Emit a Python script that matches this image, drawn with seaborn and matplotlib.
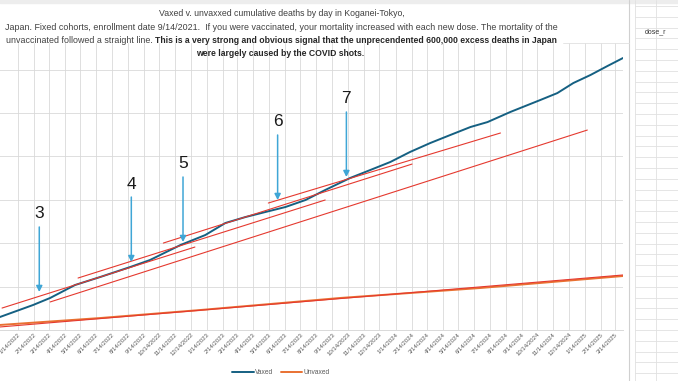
import matplotlib
matplotlib.use("Agg")
import matplotlib.pyplot as plt
from matplotlib.lines import Line2D
import pandas as pd
import seaborn as sns

# cumulative deaths (y axis labels are cut off, scale guessed)
vaxed_dates = ["2021-09-14", "2021-12-10", "2022-02-12", "2022-03-17", "2022-05-04",
               "2022-06-22", "2022-08-19", "2022-09-26", "2022-11-24", "2023-01-11",
               "2023-02-19", "2023-03-30", "2023-05-07", "2023-06-15", "2023-07-24",
               "2023-08-31", "2023-10-18", "2023-11-26", "2024-01-04", "2024-02-11",
               "2024-03-21", "2024-04-29", "2024-06-07", "2024-07-10", "2024-08-23",
               "2024-10-20", "2024-11-22", "2024-12-23", "2025-01-25", "2025-02-27",
               "2025-03-29"]
vaxed_deaths = [0, 150, 288, 369, 518, 611, 726, 806, 979, 1094,
                1233, 1302, 1359, 1417, 1498, 1613, 1751, 1843, 1936, 2051,
                2154, 2247, 2339, 2396, 2512, 2650, 2730, 2846, 2938, 3042,
                3134]

unvaxed_dates = ["2021-09-14", "2021-12-10", "2022-06-22", "2023-01-01",
                 "2023-09-29", "2024-06-26", "2025-03-29"]
unvaxed_deaths = [0, 58, 138, 230, 369, 484, 622]

# hand drawn red straight lines: start/end date and value
fit_start_dates = ["2021-12-14", "2022-05-10", "2022-10-22", "2023-05-13", "2022-03-17", "2021-12-10"]
fit_start_vals = [253, 599, 1002, 1463, 323, 35]
fit_end_dates = ["2022-12-22", "2023-08-31", "2024-02-15", "2024-08-04", "2025-01-19", "2025-03-29"]
fit_end_vals = [956, 1498, 1912, 2270, 2304, 634]

dose_labels = ["3", "4", "5", "6", "7"]
dose_dates = ["2022-02-24", "2022-08-21", "2022-11-29", "2023-05-31", "2023-10-11"]
dose_vals = [438, 783, 1014, 1498, 1763]

title_1 = "Vaxed v. unvaxxed cumulative deaths by day in Koganei-Tokyo,"
title_2 = ("Japan. Fixed cohorts, enrollment date 9/14/2021.  If you were vaccinated, "
           "your mortality increased with each new dose. The mortality of the")
title_3a = "unvaccinated followed a straight line. "
title_3b = "This is a very strong and obvious signal that the unprecendented 600,000 excess deaths in Japan"
title_4 = "were largely caused by the COVID shots."

W, H = 678, 381

sns.set_style("white")
plt.rcParams["font.family"] = ["Liberation Sans", "DejaVu Sans"]


def fx(px):
    return px / W


def fy(py):
    return 1 - py / H


fig = plt.figure(figsize=(W / 100, H / 100), dpi=100)
fig.patch.set_facecolor("white")
ax = fig.add_axes([fx(-45), fy(330), fx(668), (330 - 43) / H])

vax = pd.DataFrame({"date": pd.to_datetime(vaxed_dates), "deaths": vaxed_deaths})
unvax = pd.DataFrame({"date": pd.to_datetime(unvaxed_dates), "deaths": unvaxed_deaths})

sns.lineplot(data=unvax, x="date", y="deaths", ax=ax, color="#E97132", lw=1.4, label="Unvaxed")
sns.lineplot(data=vax, x="date", y="deaths", ax=ax, color="#156082", lw=1.4, label="Vaxed")
ax.get_legend().remove()

for d0, v0, d1, v1 in zip(fit_start_dates, fit_start_vals, fit_end_dates, fit_end_vals):
    ax.plot(pd.to_datetime([d0, d1]), [v0, v1], color="#E5392F", lw=0.8, zorder=5)

for lab, d, v in zip(dose_labels, dose_dates, dose_vals):
    dt = pd.Timestamp(d)
    ax.annotate("", xy=(dt, v), xytext=(0, 65), textcoords="offset pixels",
                arrowprops=dict(arrowstyle="-|>,head_length=0.35,head_width=0.18",
                                color="#3FA6D6", lw=1.1, shrinkA=0, shrinkB=0), zorder=6)
    ax.annotate(lab, xy=(dt, v), xytext=(0, 78), textcoords="offset pixels",
                ha="center", va="center", fontsize=12.5, color="#1a1a1a", zorder=6)

ax.set_xlim(pd.Timestamp("2021-09-14"), pd.Timestamp("2025-03-29"))
ax.set_ylim(0, 3307)
ax.set_yticks(range(0, 3001, 500))
month_ticks = pd.date_range("2021-12-14", "2025-03-14", freq="MS") + pd.Timedelta(days=13)
ax.set_xticks(month_ticks)
ax.set_xticklabels(["" if d.year < 2022 else f"{d.month}/{d.day}/{d.year}" for d in month_ticks])
ax.grid(True, color="#D9D9D9", lw=0.6)
ax.set_axisbelow(True)
for s in ["top", "right", "left"]:
    ax.spines[s].set_visible(False)
ax.spines["bottom"].set_color("#D9D9D9")
ax.spines["bottom"].set_linewidth(0.7)
ax.tick_params(axis="both", length=0, labelsize=4.3, labelcolor="#595959", pad=1.5)
ax.tick_params(axis="y", labelleft=False)
for t in ax.get_xticklabels():
    t.set_rotation(45)
    t.set_ha("right")
    t.set_rotation_mode("anchor")
ax.set_xlabel("")
ax.set_ylabel("")

# title, 4 centred lines, third line half bold
tc = "#404040"
fig.text(fx(282), fy(14), title_1, ha="center", va="center", color=tc, fontsize=6.3)
fig.text(fx(281), fy(27), title_2, ha="center", va="center", color=tc, fontsize=6.4)
t3b = fig.text(fx(557), fy(43), title_3b, ha="right", va="baseline", color="#262626",
               fontsize=6.2, fontweight="bold")
r = fig.canvas.get_renderer()
x3 = t3b.get_window_extent(r).x0
fig.text(x3 / W, fy(43), title_3a, ha="right", va="baseline", color=tc, fontsize=6.4)
fig.text(fx(280), fy(53), title_4, ha="center", va="center", color="#262626",
         fontsize=6.2, fontweight="bold")

# legend
handles = [Line2D([], [], color="#156082", lw=1.4), Line2D([], [], color="#E97132", lw=1.4)]
fig.legend(handles, ["Vaxed", "Unvaxed"], loc="center", bbox_to_anchor=(fx(281), fy(373)),
           ncol=2, frameon=False, fontsize=4.8, handlelength=3.2, handletextpad=0.2,
           columnspacing=1.2, labelcolor="#595959")

# spreadsheet cells to the right of the chart
cell = "#E1E1E1"
fig.add_artist(Line2D([fx(629), fx(629)], [0, 1], color="#D0D0D0", lw=0.8, transform=fig.transFigure))
for xv in [635, 656]:
    fig.add_artist(Line2D([fx(xv), fx(xv)], [0, 1], color=cell, lw=0.6, transform=fig.transFigure))
for k in range(36):
    yv = 6 + k * 10.8
    fig.add_artist(Line2D([fx(635), 1], [fy(yv), fy(yv)], color=cell, lw=0.6, transform=fig.transFigure))
fig.add_artist(Line2D([fx(563), fx(629)], [fy(43), fy(43)], color=cell, lw=0.6, transform=fig.transFigure))
fig.text(fx(645), fy(32), "dose_r", fontsize=5, color="#333333", va="center")
fig.add_artist(plt.Rectangle((0, fy(3)), 1, 3 / H, color="#EDEDED", transform=fig.transFigure))

fig.savefig("out.png", dpi=100)
